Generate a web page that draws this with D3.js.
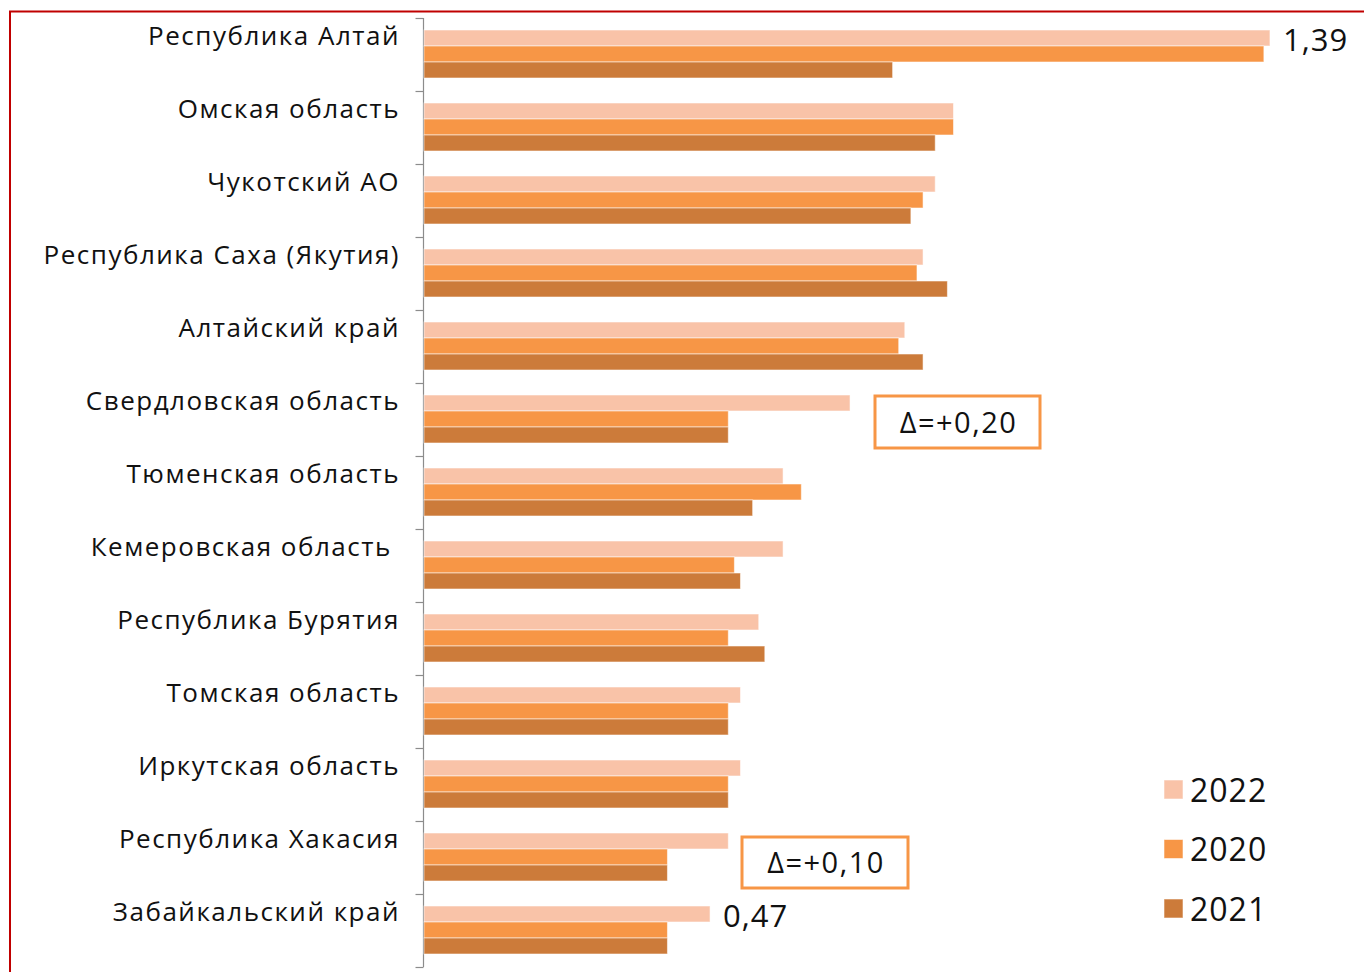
<!DOCTYPE html>
<html lang="ru">
<head>
<meta charset="utf-8">
<script src="https://cdn.jsdelivr.net/npm/d3@7"></script>
<style>
  html, body { margin: 0; padding: 0; background: #fff; }
  svg { display: block; }
  text { font-family: "Open Sans", "DejaVu Sans", sans-serif; fill: #111; }
</style>
</head>
<body>
<svg id="chart" width="1364" height="972"></svg>
<script>
// Regions, top to bottom
const regions = [
  "Республика Алтай",
  "Омская область",
  "Чукотский АО",
  "Республика Саха (Якутия)",
  "Алтайский край",
  "Свердловская область",
  "Тюменская область",
  "Кемеровская область ",
  "Республика Бурятия",
  "Томская область",
  "Иркутская область",
  "Республика Хакасия",
  "Забайкальский край"
];

// Series order inside each group (top to bottom)
const years = ["2022", "2020", "2021"];

const values2022 = [1.39, 0.87, 0.84, 0.82, 0.79, 0.70, 0.59, 0.59, 0.55, 0.52, 0.52, 0.50, 0.47];
const values2020 = [1.38, 0.87, 0.82, 0.81, 0.78, 0.50, 0.62, 0.51, 0.50, 0.50, 0.50, 0.40, 0.40];
const values2021 = [0.77, 0.84, 0.80, 0.86, 0.82, 0.50, 0.54, 0.52, 0.56, 0.50, 0.50, 0.40, 0.40];

// Regions that get a value label on the 2022 bar, and the ones with a Δ box (2022 vs 2020)
const labelledRegions = ["Республика Алтай", "Забайкальский край"];
const deltaRegions = ["Свердловская область", "Республика Хакасия"];

const colors = { "2022": "#f9c3a8", "2020": "#f79646", "2021": "#cc7b3a" };

const series = { "2022": values2022, "2020": values2020, "2021": values2021 };
const rows = regions.map((r, i) => ({
  region: r,
  values: years.map(y => ({ year: y, value: series[y][i] }))
}));

const locale = d3.formatLocale({ decimal: ",", thousands: " ", grouping: [3], currency: ["", ""] });
const fmt = locale.format(".2f");
const fmtDelta = locale.format("+.2f");

const svg = d3.select("#chart");

// Frame
svg.append("path")
  .attr("d", "M10,980 V11.5 H1370")
  .attr("fill", "none")
  .attr("stroke", "#c00000")
  .attr("stroke-width", 2);

const x = d3.scaleLinear().domain([0, 1.5]).range([424, 424 + 1.5 * 608.6]);
const y = d3.scaleBand().domain(regions).range([18, 967]);
const yInner = d3.scaleBand().domain(years).range([12, 60]);

// Category axis
const axis = d3.axisLeft(y).tickSize(0).tickFormat("");
const axisG = svg.append("g").attr("transform", "translate(423.5,0)").call(axis);
axisG.select(".domain").attr("stroke", "#8c8c8c").attr("stroke-width", 1.2)
  .attr("d", `M0,${y.range()[0]}V${y.range()[1]}`);
axisG.selectAll(".tick").remove();
// tick marks between categories
const bounds = regions.map(r => y(r)).concat([y.range()[1]]);
axisG.selectAll("line.sep").data(bounds).join("line")
  .attr("class", "sep")
  .attr("x1", -8).attr("x2", 0)
  .attr("y1", d => Math.round(d) + 0.5).attr("y2", d => Math.round(d) + 0.5)
  .attr("stroke", "#8c8c8c").attr("stroke-width", 1.2);

// Category labels
svg.append("g").selectAll("text").data(regions).join("text")
  .attr("x", 400)
  .attr("y", d => y(d) + 17)
  .attr("text-anchor", "end")
  .attr("dominant-baseline", "central")
  .style("white-space", "pre")
  .style("letter-spacing", "1.5px")
  .attr("font-size", 26)
  .text(d => d);

// Bars
const groups = svg.append("g").selectAll("g").data(rows).join("g")
  .attr("transform", d => `translate(0,${y(d.region)})`);
groups.selectAll("rect").data(d => d.values).join("rect")
  .attr("x", x(0))
  .attr("y", d => yInner(d.year))
  .attr("width", d => x(d.value) - x(0))
  .attr("height", yInner.bandwidth())
  .attr("fill", d => colors[d.year])
  .attr("stroke", "rgba(255,255,255,0.55)")
  .attr("stroke-width", 1);

// Value labels on the 2022 bar
svg.append("g").selectAll("text").data(rows.filter(d => labelledRegions.includes(d.region))).join("text")
  .attr("x", d => x(d.values[0].value) + 13)
  .attr("y", d => y(d.region) + yInner("2022") + 9)
  .attr("dominant-baseline", "central")
  .style("letter-spacing", "1px")
  .attr("font-size", 31)
  .text(d => fmt(d.values[0].value));

// Δ boxes (2022 minus 2020)
const deltaBoxes = [
  { region: deltaRegions[0], left: 875, top: 396, w: 165, h: 52 },
  { region: deltaRegions[1], left: 742, top: 837, w: 166, h: 51 }
];
const dg = svg.append("g").selectAll("g").data(deltaBoxes).join("g");
dg.append("rect")
  .attr("x", d => d.left).attr("y", d => d.top)
  .attr("width", d => d.w).attr("height", d => d.h)
  .attr("fill", "#fff").attr("stroke", "#f79646").attr("stroke-width", 3);
dg.append("text")
  .attr("x", d => d.left + d.w / 2 + 1)
  .attr("y", d => d.top + d.h / 2 - 1)
  .attr("text-anchor", "middle")
  .attr("dominant-baseline", "central")
  .style("letter-spacing", "1.5px")
  .attr("font-size", 29)
  .text(d => {
    const i = regions.indexOf(d.region);
    return "Δ=" + fmtDelta(values2022[i] - values2020[i]);
  });

// Legend
const legend = svg.append("g").selectAll("g").data(years).join("g")
  .attr("transform", (d, i) => `translate(1164,${780 + i * 59.5})`);
legend.append("rect")
  .attr("width", 19).attr("height", 19)
  .attr("fill", d => colors[d])
  .attr("stroke", "rgba(255,255,255,0.55)");
legend.append("text")
  .attr("x", 26).attr("y", 9)
  .attr("dominant-baseline", "central")
  .style("letter-spacing", "1px")
  .attr("font-size", 32)
  .text(d => d);
</script>
</body>
</html>
